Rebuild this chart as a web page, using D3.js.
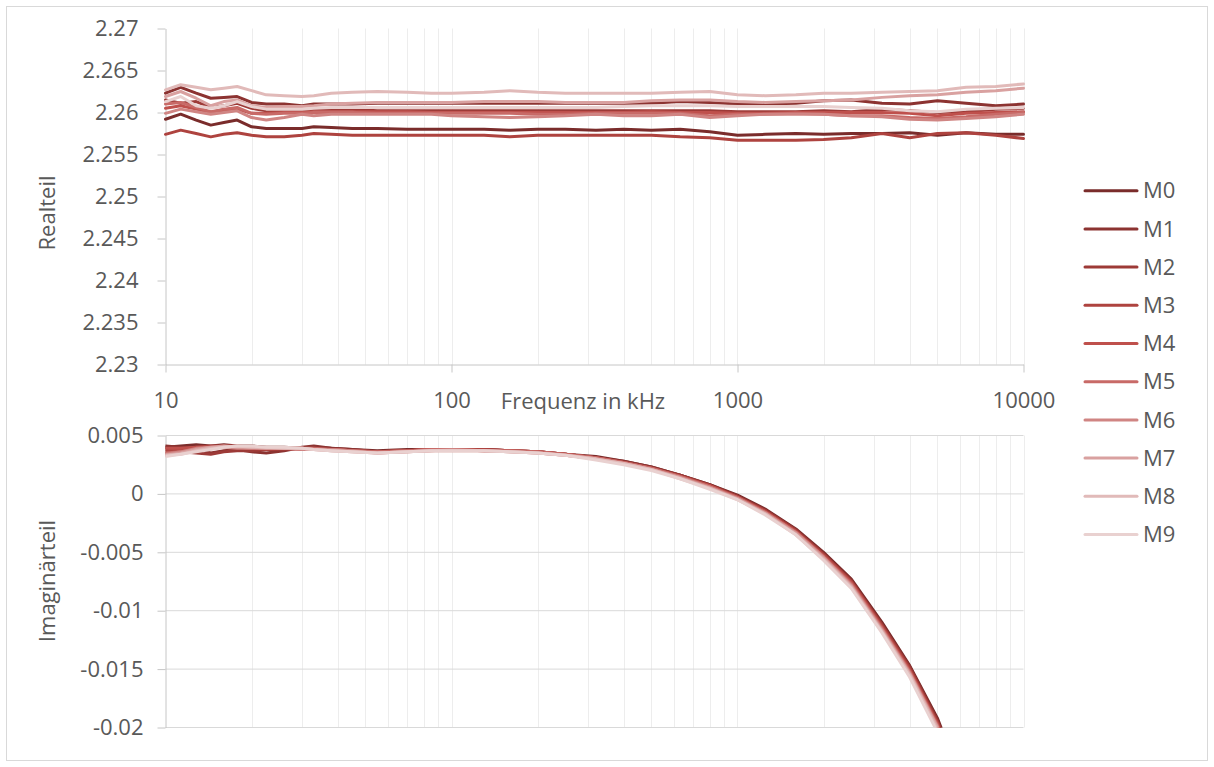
<!DOCTYPE html>
<html>
<head>
<meta charset="utf-8">
<script src="https://cdn.jsdelivr.net/npm/d3@7"></script>
<style>
  html, body { margin: 0; padding: 0; background: #fff; }
  svg { display: block; }
  text { font-family: "Open Sans", "Noto Sans", sans-serif; fill: #595959; }
</style>
</head>
<body>
<svg id="chart" width="1214" height="767"></svg>
<script>
// Measurement frequencies in kHz
const freqs = [10, 11.3, 12.8, 14.4, 16, 17.8, 20, 22.5, 26, 30, 33, 38, 45, 55, 70, 85,
  100, 130, 160, 200, 250, 320, 400, 500, 630, 800,
  1000, 1250, 1600, 2000, 2500, 3200, 4000, 5000, 6300, 8000, 10000];

const seriesNames = ["M0", "M1", "M2", "M3", "M4", "M5", "M6", "M7", "M8", "M9"];

// Real part per measurement
const re0 = [2.2592, 2.2598, 2.2591, 2.2585, 2.2588, 2.2591, 2.2583, 2.2581, 2.2581, 2.2581, 2.2583, 2.2582, 2.2581, 2.2581, 2.2580, 2.2580, 2.2580, 2.2580, 2.2579, 2.2580, 2.2580, 2.2579, 2.2580, 2.2579, 2.2580, 2.2577, 2.2573, 2.2574, 2.2575, 2.2574, 2.2575, 2.2575, 2.2576, 2.2573, 2.2576, 2.2574, 2.2574];
const re1 = [2.2623, 2.2630, 2.2623, 2.2617, 2.2618, 2.2619, 2.2612, 2.2610, 2.2610, 2.2608, 2.2610, 2.2610, 2.2610, 2.2611, 2.2611, 2.2611, 2.2611, 2.2611, 2.2611, 2.2611, 2.2611, 2.2611, 2.2611, 2.2611, 2.2613, 2.2612, 2.2610, 2.2610, 2.2611, 2.2614, 2.2615, 2.2611, 2.2610, 2.2614, 2.2611, 2.2608, 2.2610];
const re2 = [2.2615, 2.2611, 2.2613, 2.2606, 2.2608, 2.2611, 2.2605, 2.2602, 2.2602, 2.2602, 2.2604, 2.2604, 2.2604, 2.2602, 2.2602, 2.2602, 2.2602, 2.2602, 2.2602, 2.2602, 2.2602, 2.2602, 2.2602, 2.2602, 2.2602, 2.2602, 2.2601, 2.2601, 2.2601, 2.2602, 2.2601, 2.2604, 2.2602, 2.2600, 2.2601, 2.2604, 2.2605];
const re3 = [2.2574, 2.2579, 2.2575, 2.2571, 2.2574, 2.2576, 2.2573, 2.2571, 2.2571, 2.2573, 2.2575, 2.2574, 2.2573, 2.2573, 2.2573, 2.2573, 2.2573, 2.2573, 2.2571, 2.2573, 2.2573, 2.2573, 2.2573, 2.2573, 2.2571, 2.2570, 2.2567, 2.2567, 2.2567, 2.2568, 2.2570, 2.2575, 2.2570, 2.2575, 2.2576, 2.2573, 2.2569];
const re4 = [2.2605, 2.2608, 2.2604, 2.2600, 2.2602, 2.2604, 2.2599, 2.2599, 2.2600, 2.2600, 2.2601, 2.2601, 2.2601, 2.2601, 2.2601, 2.2600, 2.2600, 2.2600, 2.2600, 2.2600, 2.2600, 2.2600, 2.2600, 2.2601, 2.2600, 2.2600, 2.2599, 2.2599, 2.2600, 2.2600, 2.2600, 2.2600, 2.2599, 2.2596, 2.2599, 2.2600, 2.2601];
const re5 = [2.2610, 2.2612, 2.2606, 2.2601, 2.2604, 2.2606, 2.2599, 2.2598, 2.2599, 2.2599, 2.2600, 2.2600, 2.2600, 2.2599, 2.2599, 2.2599, 2.2599, 2.2599, 2.2599, 2.2598, 2.2598, 2.2599, 2.2599, 2.2599, 2.2599, 2.2596, 2.2598, 2.2598, 2.2599, 2.2598, 2.2596, 2.2596, 2.2594, 2.2593, 2.2595, 2.2598, 2.2600];
const re6 = [2.2599, 2.2604, 2.2601, 2.2598, 2.2600, 2.2602, 2.2594, 2.2591, 2.2594, 2.2598, 2.2596, 2.2598, 2.2598, 2.2598, 2.2598, 2.2598, 2.2596, 2.2595, 2.2594, 2.2595, 2.2596, 2.2598, 2.2596, 2.2596, 2.2598, 2.2594, 2.2596, 2.2598, 2.2598, 2.2598, 2.2596, 2.2595, 2.2592, 2.2591, 2.2593, 2.2595, 2.2598];
const re7 = [2.2619, 2.2625, 2.2617, 2.2608, 2.2613, 2.2615, 2.2608, 2.2606, 2.2607, 2.2607, 2.2608, 2.2610, 2.2611, 2.2612, 2.2612, 2.2612, 2.2612, 2.2613, 2.2613, 2.2613, 2.2612, 2.2612, 2.2612, 2.2614, 2.2615, 2.2615, 2.2613, 2.2612, 2.2613, 2.2614, 2.2615, 2.2618, 2.2620, 2.2621, 2.2624, 2.2626, 2.2629];
const re8 = [2.2627, 2.2633, 2.2630, 2.2627, 2.2629, 2.2631, 2.2626, 2.2621, 2.2620, 2.2619, 2.2620, 2.2623, 2.2624, 2.2625, 2.2624, 2.2623, 2.2623, 2.2624, 2.2626, 2.2624, 2.2623, 2.2623, 2.2623, 2.2623, 2.2624, 2.2625, 2.2621, 2.2620, 2.2621, 2.2623, 2.2623, 2.2624, 2.2625, 2.2626, 2.2630, 2.2631, 2.2634];
const re9 = [2.2613, 2.2619, 2.2608, 2.2605, 2.2608, 2.2613, 2.2607, 2.2604, 2.2604, 2.2604, 2.2605, 2.2606, 2.2606, 2.2606, 2.2606, 2.2606, 2.2606, 2.2606, 2.2606, 2.2606, 2.2606, 2.2606, 2.2607, 2.2608, 2.2608, 2.2608, 2.2607, 2.2607, 2.2607, 2.2607, 2.2606, 2.2605, 2.2602, 2.2601, 2.2604, 2.2605, 2.2606];

// Imaginary part per measurement
const im0 = [0.0040, 0.0041, 0.0042, 0.0041, 0.0042, 0.0041, 0.0041, 0.0040, 0.0040, 0.0039, 0.0040, 0.0039, 0.0038, 0.0037, 0.0038, 0.0038, 0.0038, 0.0038, 0.0037, 0.0036, 0.0034, 0.0032, 0.0028, 0.0023, 0.0016, 0.0008, -0.0001, -0.0013, -0.0030, -0.0050, -0.0073, -0.0110, -0.0147, -0.0192, -0.0256, -0.0333, -0.0422];
const im1 = [0.0041, 0.0040, 0.0039, 0.0035, 0.0037, 0.0038, 0.0036, 0.0035, 0.0037, 0.0040, 0.0041, 0.0039, 0.0038, 0.0036, 0.0037, 0.0038, 0.0038, 0.0038, 0.0037, 0.0036, 0.0034, 0.0031, 0.0028, 0.0023, 0.0016, 0.0008, -0.0002, -0.0014, -0.0031, -0.0051, -0.0074, -0.0112, -0.0148, -0.0194, -0.0258, -0.0335, -0.0425];
const im2 = [0.0038, 0.0036, 0.0035, 0.0034, 0.0036, 0.0037, 0.0037, 0.0038, 0.0038, 0.0039, 0.0039, 0.0038, 0.0037, 0.0036, 0.0037, 0.0038, 0.0038, 0.0038, 0.0037, 0.0036, 0.0034, 0.0031, 0.0027, 0.0022, 0.0016, 0.0007, -0.0002, -0.0014, -0.0031, -0.0052, -0.0075, -0.0112, -0.0149, -0.0195, -0.0259, -0.0337, -0.0427];
const im3 = [0.0036, 0.0038, 0.0040, 0.0041, 0.0041, 0.0040, 0.0039, 0.0038, 0.0039, 0.0039, 0.0038, 0.0038, 0.0037, 0.0036, 0.0037, 0.0038, 0.0038, 0.0038, 0.0037, 0.0036, 0.0034, 0.0031, 0.0027, 0.0022, 0.0015, 0.0007, -0.0003, -0.0015, -0.0032, -0.0052, -0.0075, -0.0113, -0.0150, -0.0196, -0.0260, -0.0338, -0.0428];
const im4 = [0.0039, 0.0039, 0.0040, 0.0040, 0.0041, 0.0041, 0.0040, 0.0039, 0.0039, 0.0038, 0.0038, 0.0038, 0.0037, 0.0036, 0.0037, 0.0038, 0.0038, 0.0037, 0.0037, 0.0036, 0.0034, 0.0031, 0.0027, 0.0022, 0.0015, 0.0007, -0.0003, -0.0015, -0.0032, -0.0053, -0.0076, -0.0114, -0.0151, -0.0197, -0.0261, -0.0339, -0.0430];
const im5 = [0.0035, 0.0036, 0.0038, 0.0039, 0.0040, 0.0040, 0.0039, 0.0039, 0.0039, 0.0039, 0.0039, 0.0038, 0.0037, 0.0036, 0.0037, 0.0038, 0.0038, 0.0037, 0.0037, 0.0036, 0.0034, 0.0031, 0.0027, 0.0022, 0.0015, 0.0006, -0.0003, -0.0016, -0.0033, -0.0054, -0.0077, -0.0115, -0.0152, -0.0198, -0.0263, -0.0341, -0.0432];
const im6 = [0.0034, 0.0036, 0.0039, 0.0040, 0.0040, 0.0039, 0.0039, 0.0039, 0.0039, 0.0038, 0.0038, 0.0038, 0.0037, 0.0035, 0.0036, 0.0037, 0.0038, 0.0037, 0.0036, 0.0035, 0.0033, 0.0030, 0.0026, 0.0021, 0.0014, 0.0006, -0.0004, -0.0016, -0.0033, -0.0054, -0.0078, -0.0116, -0.0153, -0.0199, -0.0264, -0.0343, -0.0434];
const im7 = [0.0033, 0.0035, 0.0038, 0.0040, 0.0041, 0.0040, 0.0040, 0.0039, 0.0039, 0.0039, 0.0038, 0.0037, 0.0036, 0.0035, 0.0036, 0.0037, 0.0037, 0.0037, 0.0036, 0.0035, 0.0033, 0.0030, 0.0026, 0.0021, 0.0014, 0.0005, -0.0004, -0.0017, -0.0034, -0.0055, -0.0079, -0.0117, -0.0154, -0.0200, -0.0266, -0.0345, -0.0436];
const im8 = [0.0033, 0.0034, 0.0037, 0.0039, 0.0040, 0.0041, 0.0040, 0.0040, 0.0039, 0.0039, 0.0038, 0.0037, 0.0036, 0.0035, 0.0036, 0.0037, 0.0037, 0.0037, 0.0036, 0.0035, 0.0033, 0.0030, 0.0026, 0.0021, 0.0013, 0.0005, -0.0005, -0.0017, -0.0035, -0.0056, -0.0080, -0.0118, -0.0155, -0.0202, -0.0268, -0.0347, -0.0438];
const im9 = [0.0032, 0.0034, 0.0036, 0.0038, 0.0040, 0.0041, 0.0041, 0.0040, 0.0040, 0.0039, 0.0038, 0.0037, 0.0036, 0.0035, 0.0036, 0.0037, 0.0037, 0.0037, 0.0036, 0.0035, 0.0033, 0.0029, 0.0025, 0.0020, 0.0013, 0.0004, -0.0005, -0.0018, -0.0035, -0.0057, -0.0081, -0.0119, -0.0157, -0.0204, -0.0270, -0.0349, -0.0440];

// Axis ticks and their labels
const freqTicks = [10, 100, 1000, 10000];
const freqTickLabels = ["10", "100", "1000", "10000"];
const reTicks = [2.23, 2.235, 2.24, 2.245, 2.25, 2.255, 2.26, 2.265, 2.27];
const reTickLabels = ["2.23", "2.235", "2.24", "2.245", "2.25", "2.255", "2.26", "2.265", "2.27"];
const imTicks = [-0.02, -0.015, -0.01, -0.005, 0, 0.005];
const imTickLabels = ["-0.02", "-0.015", "-0.01", "-0.005", "0", "0.005"];

const colors = ["#7a2c2b", "#8c3331", "#9d3a37", "#ae433f", "#bf504c", "#c86a67", "#d08583", "#d9a1a0", "#e1bab9", "#e9d1d0"];

const reData = [re0, re1, re2, re3, re4, re5, re6, re7, re8, re9];
const imData = [im0, im1, im2, im3, im4, im5, im6, im7, im8, im9];
const series = seriesNames.map((name, i) => ({
  name, color: colors[i],
  re: freqs.map((f, k) => ({ f, v: reData[i][k] })),
  im: freqs.map((f, k) => ({ f, v: imData[i][k] }))
}));

const svg = d3.select("#chart");

// outer frame
svg.append("rect").attr("x", 6.5).attr("y", 6.5).attr("width", 1201).attr("height", 754)
  .attr("fill", "#fff").attr("stroke", "#d9d9d9").attr("stroke-width", 1);

const x = d3.scaleLog().domain([10, 10000]).range([165.5, 1023.5]);
const yRe = d3.scaleLinear().domain([2.23, 2.27]).range([364.5, 28.5]);
const yIm = d3.scaleLinear().domain([-0.02, 0.005]).range([727.5, 435.5]);

const gridX = x.ticks();
const gridColor = "#ededed";
const axisColor = "#c6c6c6";

function styleAxis(g) {
  g.select(".domain").attr("stroke", axisColor);
  g.selectAll(".tick line").attr("stroke", axisColor);
  g.selectAll(".tick text").attr("fill", "#595959").style("font-size", "22px")
    .style("font-family", '"Open Sans", sans-serif');
}

// ---- upper panel: real part ----
const panelRe = svg.append("g");
panelRe.append("g").selectAll("line").data(gridX.filter(d => d > 10)).join("line")
  .attr("x1", d => Math.round(x(d)) + 0.5).attr("x2", d => Math.round(x(d)) + 0.5)
  .attr("y1", yRe(2.27)).attr("y2", yRe(2.23))
  .attr("stroke", gridColor).attr("stroke-width", 1);

const yReAxis = d3.axisLeft(yRe).tickValues(reTicks)
  .tickFormat((d, i) => reTickLabels[i]).tickSize(8).tickSizeOuter(0).tickPadding(19);
panelRe.append("g").attr("transform", "translate(165.5,0)").call(yReAxis).call(styleAxis);

const xAxis = d3.axisBottom(x).tickValues(freqTicks)
  .tickFormat((d, i) => freqTickLabels[i]).tickSize(8).tickSizeOuter(0).tickPadding(20);
panelRe.append("g").attr("transform", `translate(0,${yRe(2.23)})`).call(xAxis).call(styleAxis);

const lineRe = d3.line().x(d => x(d.f)).y(d => yRe(d.v));
panelRe.append("g").selectAll("path").data(series).join("path")
  .attr("d", d => lineRe(d.re)).attr("fill", "none")
  .attr("stroke", d => d.color).attr("stroke-width", 3)
  .attr("stroke-linejoin", "round").attr("stroke-linecap", "round");

panelRe.append("text").attr("x", 583).attr("y", 401).attr("dy", "0.35em")
  .attr("text-anchor", "middle").style("font-size", "22px").text("Frequenz in kHz");

panelRe.append("text").attr("transform", "translate(47,213) rotate(-90)")
  .attr("dy", "0.35em").attr("text-anchor", "middle").style("font-size", "22px").text("Realteil");

// ---- lower panel: imaginary part ----
const panelIm = svg.append("g");
panelIm.append("g").selectAll("line").data(gridX.filter(d => d > 10)).join("line")
  .attr("x1", d => Math.round(x(d)) + 0.5).attr("x2", d => Math.round(x(d)) + 0.5)
  .attr("y1", yIm(0.005)).attr("y2", yIm(-0.02))
  .attr("stroke", gridColor).attr("stroke-width", 1);

panelIm.append("g").selectAll("line").data(imTicks).join("line")
  .attr("x1", x(10)).attr("x2", x(10000))
  .attr("y1", d => yIm(d)).attr("y2", d => yIm(d))
  .attr("stroke", "#d9d9d9").attr("stroke-width", 1);

const yImAxis = d3.axisLeft(yIm).tickValues(imTicks)
  .tickFormat((d, i) => imTickLabels[i]).tickSize(8).tickSizeOuter(0).tickPadding(14);
panelIm.append("g").attr("transform", "translate(165.5,0)").call(yImAxis).call(styleAxis);

svg.append("defs").append("clipPath").attr("id", "imClip").append("rect")
  .attr("x", x(10)).attr("y", yIm(0.005) - 4)
  .attr("width", x(10000) - x(10)).attr("height", yIm(-0.02) - yIm(0.005) + 4);

const lineIm = d3.line().x(d => x(d.f)).y(d => yIm(d.v));
panelIm.append("g").attr("clip-path", "url(#imClip)")
  .selectAll("path").data(series).join("path")
  .attr("d", d => lineIm(d.im)).attr("fill", "none")
  .attr("stroke", d => d.color).attr("stroke-width", 3)
  .attr("stroke-linejoin", "round").attr("stroke-linecap", "round");

panelIm.append("text").attr("transform", "translate(47,581) rotate(-90)")
  .attr("dy", "0.35em").attr("text-anchor", "middle").style("font-size", "22px").text("Imaginärteil");

// ---- legend ----
const legend = svg.append("g").selectAll("g").data(series).join("g")
  .attr("transform", (d, i) => `translate(1085,${190.7 + i * 38.2})`);
legend.append("line").attr("x1", 0).attr("x2", 52).attr("y1", 0).attr("y2", 0)
  .attr("stroke", d => d.color).attr("stroke-width", 3).attr("stroke-linecap", "round");
legend.append("text").attr("x", 58).attr("dy", "0.35em").style("font-size", "22px")
  .text(d => d.name);
</script>
</body>
</html>
